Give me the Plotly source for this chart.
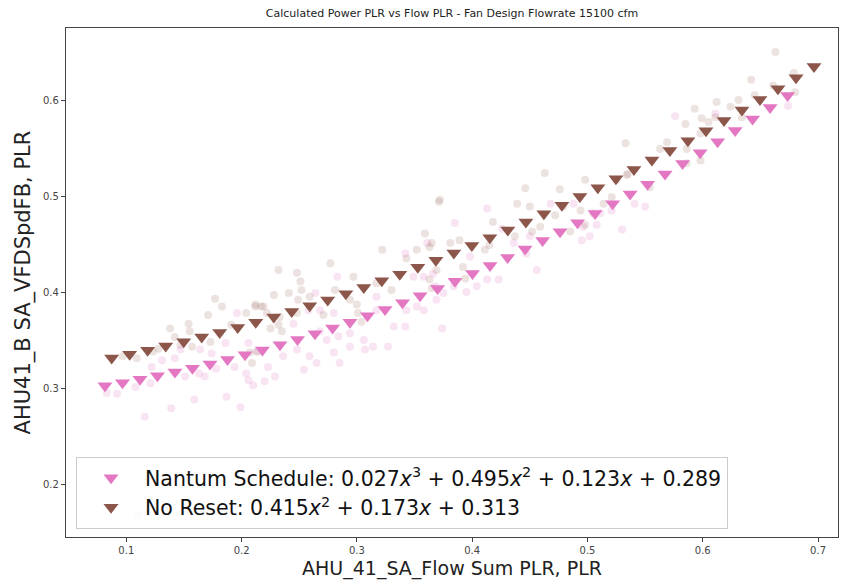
import plotly.graph_objects as go

# ---- data ----
nantum_fit_x = [0.0815, 0.0967, 0.1119, 0.1270, 0.1422, 0.1574, 0.1726, 0.1878, 0.2030, 0.2181,
                0.2333, 0.2485, 0.2637, 0.2789, 0.2940, 0.3092, 0.3244, 0.3396, 0.3548, 0.3700,
                0.3851, 0.4003, 0.4155, 0.4307, 0.4459, 0.4611, 0.4762, 0.4914, 0.5066, 0.5218,
                0.5370, 0.5521, 0.5673, 0.5825, 0.5977, 0.6129, 0.6281, 0.6432, 0.6584, 0.6736]
nantum_fit_y = [0.3023, 0.3055, 0.3090, 0.3127, 0.3166, 0.3207, 0.3251, 0.3297, 0.3346, 0.3397,
                0.3450, 0.3505, 0.3564, 0.3624, 0.3686, 0.3752, 0.3819, 0.3889, 0.3962, 0.4036,
                0.4113, 0.4193, 0.4275, 0.4360, 0.4447, 0.4536, 0.4627, 0.4722, 0.4819, 0.4918,
                0.5020, 0.5123, 0.5230, 0.5339, 0.5451, 0.5565, 0.5682, 0.5801, 0.5923, 0.6047]

noreset_fit_x = [0.0873, 0.1029, 0.1185, 0.1342, 0.1498, 0.1654, 0.1810, 0.1966, 0.2123, 0.2279,
                 0.2435, 0.2591, 0.2747, 0.2904, 0.3060, 0.3216, 0.3372, 0.3528, 0.3685, 0.3841,
                 0.3997, 0.4153, 0.4309, 0.4466, 0.4622, 0.4778, 0.4934, 0.5090, 0.5247, 0.5403,
                 0.5559, 0.5715, 0.5871, 0.6028, 0.6184, 0.6340, 0.6496, 0.6652, 0.6809, 0.6965]
noreset_fit_y = [0.3313, 0.3352, 0.3393, 0.3437, 0.3482, 0.3530, 0.3579, 0.3631, 0.3684, 0.3740,
                 0.3797, 0.3857, 0.3918, 0.3982, 0.4048, 0.4116, 0.4185, 0.4257, 0.4331, 0.4407,
                 0.4484, 0.4564, 0.4646, 0.4730, 0.4816, 0.4904, 0.4994, 0.5086, 0.5180, 0.5276,
                 0.5374, 0.5474, 0.5576, 0.5681, 0.5787, 0.5895, 0.6005, 0.6117, 0.6232, 0.6348]

nantum_obs_x = [0.083, 0.092, 0.108, 0.116, 0.139, 0.159, 0.187, 0.199, 0.121, 0.131, 0.142, 0.151,
                0.163, 0.168, 0.164, 0.174, 0.178, 0.186, 0.194, 0.204, 0.206, 0.210, 0.196, 0.206,
                0.214, 0.147, 0.122,
                0.283, 0.264, 0.268, 0.280, 0.258, 0.245, 0.248, 0.236, 0.223, 0.229, 0.220, 0.259,
                0.265, 0.254, 0.280, 0.285, 0.294, 0.294, 0.306, 0.314, 0.307, 0.327, 0.284, 0.274,
                0.268, 0.317, 0.317, 0.332, 0.342, 0.343, 0.352, 0.358, 0.349, 0.358, 0.369, 0.374,
                0.342, 0.361,
                0.413, 0.385, 0.426, 0.436, 0.450, 0.447, 0.468, 0.488, 0.496, 0.495, 0.502, 0.508,
                0.511, 0.530, 0.521, 0.456, 0.423, 0.413, 0.398, 0.404, 0.395, 0.384, 0.375, 0.368,
                0.366,
                0.576, 0.611, 0.674, 0.541, 0.550, 0.110]
nantum_obs_y = [0.295, 0.294, 0.301, 0.270, 0.279, 0.288, 0.291, 0.280, 0.305, 0.329, 0.331, 0.312,
                0.315, 0.312, 0.340, 0.336, 0.320, 0.347, 0.322, 0.315, 0.308, 0.303, 0.378, 0.347,
                0.338, 0.340, 0.322,
                0.416, 0.399, 0.381, 0.378, 0.381, 0.367, 0.340, 0.333, 0.322, 0.312, 0.307, 0.333,
                0.326, 0.319, 0.337, 0.326, 0.357, 0.343, 0.350, 0.343, 0.340, 0.343, 0.354, 0.350,
                0.359, 0.395, 0.381, 0.364, 0.364, 0.381, 0.385, 0.381, 0.416, 0.416, 0.392, 0.362,
                0.440, 0.451,
                0.487, 0.472, 0.466, 0.451, 0.458, 0.440, 0.492, 0.492, 0.468, 0.454, 0.458, 0.470,
                0.482, 0.465, 0.485, 0.423, 0.413, 0.413, 0.437, 0.406, 0.400, 0.406, 0.399, 0.406,
                0.419,
                0.583, 0.586, 0.594, 0.492, 0.489, 0.168]

noreset_obs_x = [0.097, 0.109, 0.123, 0.128, 0.138, 0.142, 0.147, 0.154, 0.155, 0.157, 0.171, 0.173,
                 0.177, 0.183, 0.191, 0.204, 0.212, 0.217, 0.213, 0.209,
                 0.232, 0.248, 0.251, 0.277, 0.228, 0.241, 0.252, 0.259, 0.212, 0.219, 0.222, 0.233,
                 0.232, 0.225, 0.235, 0.248, 0.249, 0.271, 0.281, 0.294, 0.300, 0.301, 0.297, 0.322,
                 0.317, 0.330, 0.343, 0.352, 0.359, 0.365, 0.363, 0.371, 0.365, 0.304, 0.207,
                 0.372, 0.439, 0.446, 0.463, 0.476, 0.498, 0.533, 0.525, 0.534, 0.389, 0.381, 0.415,
                 0.411, 0.418, 0.437, 0.450, 0.452, 0.459, 0.472, 0.479, 0.485, 0.494, 0.498, 0.505,
                 0.514, 0.521, 0.392, 0.369, 0.394, 0.363,
                 0.663, 0.642, 0.679, 0.680, 0.661, 0.645, 0.631, 0.624, 0.612, 0.593, 0.599, 0.605,
                 0.611, 0.585, 0.598, 0.586, 0.569, 0.563, 0.598, 0.586, 0.554, 0.535, 0.634]
noreset_obs_y = [0.333, 0.331, 0.338, 0.341, 0.362, 0.353, 0.345, 0.367, 0.359, 0.343, 0.376, 0.348,
                 0.393, 0.385, 0.366, 0.378, 0.387, 0.385, 0.338, 0.326,
                 0.423, 0.420, 0.411, 0.430, 0.397, 0.399, 0.402, 0.395, 0.385, 0.385, 0.378, 0.374,
                 0.366, 0.362, 0.359, 0.378, 0.392, 0.376, 0.402, 0.392, 0.387, 0.378, 0.416, 0.444,
                 0.409, 0.402, 0.435, 0.444, 0.461, 0.451, 0.413, 0.494, 0.404, 0.369, 0.337,
                 0.496, 0.492, 0.508, 0.524, 0.507, 0.517, 0.555, 0.517, 0.522, 0.454, 0.451, 0.449,
                 0.444, 0.473, 0.458, 0.489, 0.463, 0.468, 0.480, 0.489, 0.463, 0.485, 0.470, 0.482,
                 0.492, 0.499, 0.426, 0.423, 0.414, 0.447,
                 0.650, 0.621, 0.628, 0.608, 0.615, 0.605, 0.600, 0.593, 0.598, 0.591, 0.581, 0.577,
                 0.582, 0.575, 0.565, 0.549, 0.556, 0.549, 0.537, 0.534, 0.509, 0.523, 0.582]

x_ticks = [0.1, 0.2, 0.3, 0.4, 0.5, 0.6, 0.7]
y_ticks = [0.2, 0.3, 0.4, 0.5, 0.6]

PINK = "#e377c2"
BROWN = "#8c564b"
FONT = "DejaVu Sans"

fig = go.Figure()
fig.add_trace(go.Scatter(x=nantum_obs_x, y=nantum_obs_y, mode="markers", showlegend=False,
                         marker=dict(symbol="circle", size=8, color=PINK, opacity=0.2)))
fig.add_trace(go.Scatter(x=noreset_obs_x, y=noreset_obs_y, mode="markers", showlegend=False,
                         marker=dict(symbol="circle", size=8, color=BROWN, opacity=0.17)))
fig.add_trace(go.Scatter(x=nantum_fit_x, y=nantum_fit_y, mode="markers",
                         name="Nantum Schedule: 0.027<i>x</i><sup>3</sup> + 0.495<i>x</i><sup>2</sup> + 0.123<i>x</i> + 0.289",
                         marker=dict(symbol="triangle-down", size=13, color=PINK)))
fig.add_trace(go.Scatter(x=noreset_fit_x, y=noreset_fit_y, mode="markers",
                         name="No Reset: 0.415<i>x</i><sup>2</sup> + 0.173<i>x</i> + 0.313",
                         marker=dict(symbol="triangle-down", size=13, color=BROWN)))

axis_common = dict(showgrid=False, zeroline=False, showline=True, linecolor="#444", linewidth=1.3,
                   mirror=True, ticks="outside", ticklen=4, tickcolor="#444",
                   tickfont=dict(family=FONT, size=10, color="#444"))

fig.update_layout(
    width=843, height=585,
    margin=dict(l=66, r=5, t=28, b=48),
    paper_bgcolor="white", plot_bgcolor="white",
    font=dict(family=FONT, color="#222"),
    title=dict(text="Calculated Power PLR vs Flow PLR - Fan Design Flowrate 15100 cfm",
               x=0.5, xref="paper", xanchor="center", y=1 - 13 / 585, yref="container",
               yanchor="middle", font=dict(family=FONT, size=11, color="#222")),
    xaxis=dict(range=[0.0477, 0.7173], tickvals=x_ticks, ticktext=[str(v) for v in x_ticks],
               title=dict(text="AHU_41_SA_Flow Sum PLR, PLR", font=dict(family=FONT, size=19, color="#222"),
                          standoff=6),
               **axis_common),
    yaxis=dict(range=[0.1448, 0.675], tickvals=y_ticks, ticktext=[str(v) for v in y_ticks],
               title=dict(text="AHU41_B SA_VFDSpdFB, PLR", font=dict(family=FONT, size=21, color="#222"),
                          standoff=6),
               **axis_common),
    legend=dict(x=0.013, y=0.016, xanchor="left", yanchor="bottom",
                bgcolor="rgba(255,255,255,0.85)", bordercolor="#cccccc", borderwidth=1,
                font=dict(family=FONT, size=20.5, color="#111"), itemwidth=58),
)

fig.write_html("out.html")
